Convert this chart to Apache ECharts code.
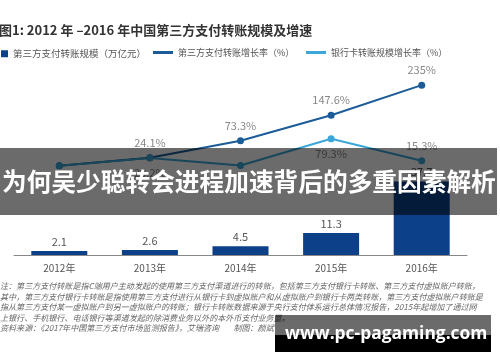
<!DOCTYPE html>
<html><head><meta charset="utf-8">
<script src="https://cdn.jsdelivr.net/npm/echarts@6/dist/echarts.min.js"></script>
<style>html,body{margin:0;padding:0;background:#fff}#c{width:500px;height:362px}</style>
</head><body><div id="c"></div>
<script>
const categories = ['2012年', '2013年', '2014年', '2015年', '2016年'];
const transferScale = [2.1, 2.6, 4.5, 11.3, 37.7];
const thirdPartyGrowth = [1.0, 24.1, 73.3, 147.6, 235];
const bankCardGrowth = [1.0, 23.2, 1.5, 79.3, 15.3];
const seriesNames = ['第三方支付转账规模（万亿元）', '第三方支付转账增长率（%）', '银行卡转账规模增长率（%）'];
const titleText = '图1: 2012 年 –2016 年中国第三方支付转账规模及增速';
const notes = [
  '注：第三方支付转账是指C端用户主动发起的使用第三方支付渠道进行的转账，包括第三方支付银行卡转账、第三方支付虚拟账户转账，',
  '其中，第三方支付银行卡转账是指使用第三方支付进行从银行卡到虚拟账户和从虚拟账户到银行卡两类转账，第三方支付虚拟账户转账是',
  '指从第三方支付某一虚拟账户到另一虚拟账户的转账；银行卡转账数据来源于央行支付体系运行总体情况报告，2015年起增加了通过网',
  '上银行、手机银行、电话银行等渠道发起的除消费业务以外的本外币支付业务量。',
  '资料来源：《2017年中国第三方支付市场监测报告》，艾瑞咨询        制图：颜斌'
];
const bannerText = '为何吴少聪转会进程加速背后的多重因素解析';
const watermarkText = 'www.pc-pagaming.com';

// label placement (style only)
const thirdLabelPos = [null, 'top', 'top', 'top', 'top'];
const bankLabelPos = [null, 'bottom', null, 'bottom', 'top'];

const FONT = '"Noto Sans CJK SC", "Noto Sans", sans-serif';
const chart = echarts.init(document.getElementById('c'), null, {renderer: 'canvas'});

function lineData(vals, pos) {
  return vals.map((v, i) => ({
    value: v,
    label: pos[i] ? {show: true, position: pos[i]} : {show: false}
  }));
}

const noteGraphics = notes.map((t, i) => ({
  type: 'text', left: 0, top: [282, 292.5, 303, 313.5, 323.5][i], z: 50,
  style: {text: t, fill: '#666', font: 'italic 8.05px ' + FONT}
}));

const option = {
  animation: false,
  title: {
    text: titleText, left: -1, top: 24, padding: 0,
    textStyle: {fontSize: 13, fontWeight: 'bold', color: '#333', fontFamily: FONT}
  },
  legend: [
    {data: [seriesNames[0]], left: 1, top: 49, padding: 0, itemWidth: 7, itemHeight: 7, icon: 'rect',
     textStyle: {fontSize: 9.5, color: '#555', fontFamily: FONT}},
    {data: [seriesNames[1]], left: 153, top: 48, padding: 0, itemWidth: 20, itemHeight: 3, icon: 'rect',
     textStyle: {fontSize: 9, color: '#555', fontFamily: FONT}},
    {data: [seriesNames[2]], left: 306, top: 48, padding: 0, itemWidth: 20, itemHeight: 3, icon: 'rect',
     textStyle: {fontSize: 9, color: '#555', fontFamily: FONT}}
  ],
  grid: [
    {left: 14, right: 33, top: 177, height: 78},
    {left: 14, right: 33, top: 80, height: 86}
  ],
  xAxis: [
    {type: 'category', gridIndex: 0, data: categories, boundaryGap: true,
     axisLine: {lineStyle: {color: '#888', width: 1}}, axisTick: {show: false},
     axisLabel: {color: '#555', fontSize: 10, margin: 8, fontFamily: FONT}},
    {type: 'category', gridIndex: 1, data: categories, boundaryGap: true, show: false}
  ],
  yAxis: [
    {type: 'value', gridIndex: 0, min: 0, max: 40, show: false, splitLine: {show: false}},
    {type: 'value', gridIndex: 1, min: 0, max: 250, show: false, splitLine: {show: false}}
  ],
  series: [
    {name: seriesNames[0], type: 'bar', xAxisIndex: 0, yAxisIndex: 0, data: transferScale,
     barWidth: 56, itemStyle: {color: '#0c418a'},
     label: {show: true, position: 'top', distance: 4, color: '#555', fontSize: 11, fontFamily: FONT}},
    {name: seriesNames[1], type: 'line', xAxisIndex: 1, yAxisIndex: 1,
     data: lineData(thirdPartyGrowth, thirdLabelPos),
     color: '#1b5c98', lineStyle: {width: 2, color: '#1b5c98'}, symbol: 'circle', symbolSize: 7,
     itemStyle: {color: '#1b5c98'},
     label: {color: '#888', fontSize: 11, distance: 6, formatter: '{c}%', fontFamily: FONT}},
    {name: seriesNames[2], type: 'line', xAxisIndex: 1, yAxisIndex: 1,
     data: lineData(bankCardGrowth, bankLabelPos),
     color: '#3aa7d8', lineStyle: {width: 2, color: '#3aa7d8'}, symbol: 'circle', symbolSize: 7,
     itemStyle: {color: '#3aa7d8'},
     label: {color: '#888', fontSize: 11, distance: 6, formatter: '{c}%', fontFamily: FONT}}
  ],
  graphic: noteGraphics.concat([
    {type: 'rect', left: 0, top: 148, z: 100, shape: {width: 497, height: 67},
     style: {fill: 'rgba(0,0,0,0.58)'}},
    {type: 'text', left: 2, top: 169, z: 101,
     style: {text: bannerText, fill: '#fff', font: 'bold 24.7px ' + FONT}},
    {type: 'rect', left: 275, top: 315, z: 100, shape: {width: 216, height: 20},
     style: {fill: 'rgba(0,0,0,0.58)'}},
    {type: 'rect', left: 275, top: 335, z: 100, shape: {width: 216, height: 17},
     style: {fill: '#000'}},
    {type: 'text', left: 285, top: 325.5, z: 101,
     style: {text: watermarkText, fill: '#fff', font: 'bold 17.4px "Open Sans", "Noto Sans", sans-serif'}}
  ])
};
chart.setOption(option);
</script></body></html>
